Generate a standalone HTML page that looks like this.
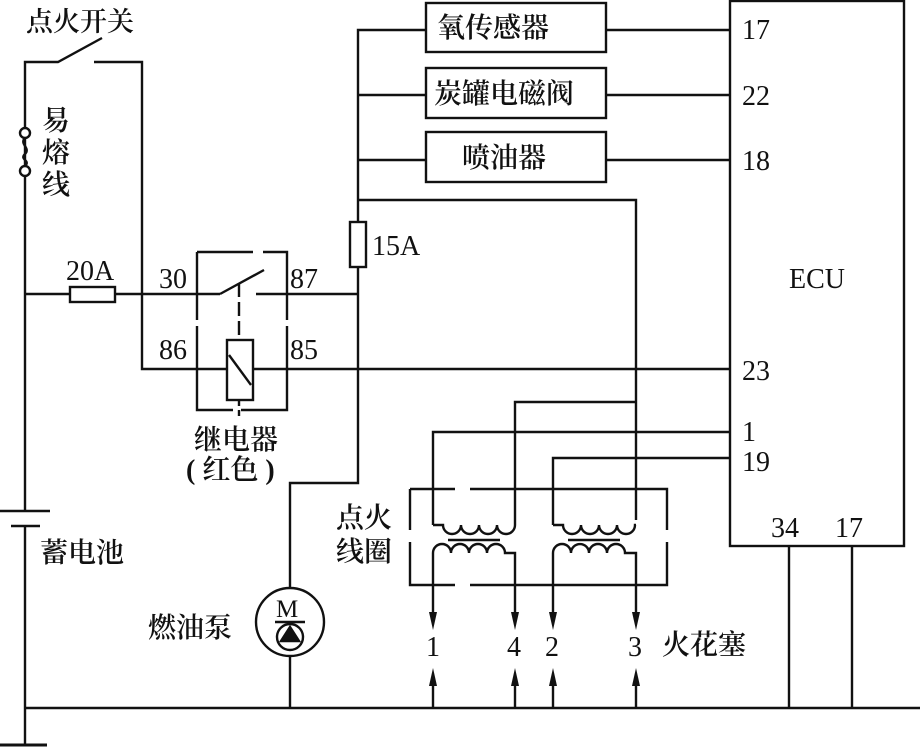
<!DOCTYPE html>
<html><head><meta charset="utf-8"><style>
html,body{margin:0;padding:0;background:#fff;}
svg{display:block;}
text{font-family:"Liberation Serif","Noto Serif CJK SC",serif;fill:#111;}
.c{font-family:"Liberation Serif","Noto Serif CJK SC","Noto Sans CJK SC",serif;font-weight:600;}
</style></head><body>
<svg width="920" height="748" viewBox="0 0 920 748" xmlns="http://www.w3.org/2000/svg">
<g stroke="#111" stroke-width="2.4" fill="none">
<polyline points="25,511 25,62 58,62 102,38"/>
<polyline points="94,62 142,62 142,369 730,369"/>
<circle cx="25" cy="133" r="5" fill="#fff"/>
<circle cx="25" cy="171" r="5" fill="#fff"/>
<path d="M25,138 c-6,6 6,10 0,16 c-6,6 6,6 0,12"/>
<line x1="0" y1="511" x2="50" y2="511"/>
<line x1="11" y1="526" x2="40" y2="526"/>
<line x1="25" y1="526" x2="25" y2="745"/>
<line x1="0" y1="745" x2="47" y2="745" stroke-width="3"/>
<line x1="25" y1="708" x2="920" y2="708"/>
<line x1="25" y1="294" x2="220" y2="294"/>
<rect x="70" y="287" width="45" height="15" fill="#fff"/>
<line x1="256" y1="294" x2="358" y2="294"/>
<path d="M197,252 H253 M263,252 H287 V320 M287,326 V410 H241 M233,410 H197 V326 M197,320 V252" />
<line x1="220" y1="294" x2="264" y2="270"/>
<line x1="239" y1="283" x2="239" y2="340" stroke-dasharray="14,5"/>
<rect x="227" y="340" width="26" height="60" fill="#fff"/>
<line x1="229" y1="355" x2="251" y2="385"/>
<line x1="239" y1="400" x2="239" y2="418" stroke-dasharray="6,4"/>
<polyline points="426,30 358,30 358,483 290,483 290,588"/>
<line x1="358" y1="95" x2="426" y2="95"/>
<line x1="358" y1="160" x2="426" y2="160"/>
<polyline points="358,200 636,200 636,520"/>
<rect x="350" y="222" width="16" height="45" fill="#fff"/>
<rect x="426" y="3" width="180" height="49"/>
<rect x="426" y="68" width="180" height="50"/>
<rect x="426" y="132" width="180" height="50"/>
<line x1="606" y1="30" x2="730" y2="30"/>
<line x1="606" y1="95" x2="730" y2="95"/>
<line x1="606" y1="160" x2="730" y2="160"/>
<rect x="730" y="1" width="174" height="545"/>
<line x1="789" y1="546" x2="789" y2="708"/>
<line x1="852" y1="546" x2="852" y2="708"/>
<circle cx="290" cy="622" r="34"/>
<line x1="275" y1="622" x2="305" y2="622"/>
<circle cx="290" cy="637" r="13"/>
<polygon points="290,627 281,641 299,641" fill="#111"/>
<line x1="290" y1="656" x2="290" y2="708"/>
<polyline points="515,525 515,402 636,402"/>
<polyline points="433,525 433,432 730,432"/>
<polyline points="553,525 553,458 730,458"/>
<path d="M410,489 H455 M470,489 H667 V530 M667,542 V585 H470 M455,585 H410 V542 M410,530 V489"/>
<path d="M433,525 H443 a9,9 0 0 0 18,0 a9,9 0 0 0 18,0 a9,9 0 0 0 18,0 a9,9 0 0 0 18,0 H515"/>
<line x1="448" y1="540" x2="500" y2="540"/>
<path d="M433,620 V553 a9,9 0 0 1 18,0 a9,9 0 0 1 18,0 a9,9 0 0 1 18,0 a9,9 0 0 1 18,0 H515 V620"/>
<path d="M553,525 H563 a9,9 0 0 0 18,0 a9,9 0 0 0 18,0 a9,9 0 0 0 18,0 a9,9 0 0 0 18,0 H636"/>
<line x1="568" y1="540" x2="620" y2="540"/>
<path d="M553,620 V553 a9,9 0 0 1 18,0 a9,9 0 0 1 18,0 a9,9 0 0 1 18,0 a9,9 0 0 1 18,0 H636 V620"/>
<line x1="433" y1="680" x2="433" y2="708"/>
<line x1="515" y1="680" x2="515" y2="708"/>
<line x1="553" y1="680" x2="553" y2="708"/>
<line x1="636" y1="680" x2="636" y2="708"/>
</g>
<g fill="#111">
<polygon points="429,612 437,612 433,630"/>
<polygon points="511,612 519,612 515,630"/>
<polygon points="549,612 557,612 553,630"/>
<polygon points="632,612 640,612 636,630"/>
<polygon points="429,686 437,686 433,668"/>
<polygon points="511,686 519,686 515,668"/>
<polygon points="549,686 557,686 553,668"/>
<polygon points="632,686 640,686 636,668"/>
</g>
<g font-size="28">
<text x="26" y="31" class="c" font-size="27">点火开关</text>
<text x="42" y="130" class="c">易</text>
<text x="42" y="162" class="c">熔</text>
<text x="42" y="194" class="c">线</text>
<text x="66" y="280">20A</text>
<text x="159" y="288">30</text>
<text x="290" y="288">87</text>
<text x="159" y="359">86</text>
<text x="290" y="359">85</text>
<text x="194" y="449" class="c">继电器</text>
<text x="186" y="479" class="c">( 红色 )</text>
<text x="372" y="255">15A</text>
<text x="40" y="562" class="c">蓄电池</text>
<text x="148" y="637" class="c">燃油泵</text>
<text x="276" y="617" font-size="25">M</text>
<text x="437" y="37" class="c">氧传感器</text>
<text x="434" y="103" class="c">炭罐电磁阀</text>
<text x="462" y="167" class="c">喷油器</text>
<text x="742" y="39">17</text>
<text x="742" y="105">22</text>
<text x="742" y="170">18</text>
<text x="789" y="288">ECU</text>
<text x="742" y="380">23</text>
<text x="742" y="441">1</text>
<text x="742" y="471">19</text>
<text x="771" y="537">34</text>
<text x="835" y="537">17</text>
<text x="336" y="527" class="c">点火</text>
<text x="336" y="561" class="c">线圈</text>
<text x="426" y="656">1</text>
<text x="507" y="656">4</text>
<text x="545" y="656">2</text>
<text x="628" y="656">3</text>
<text x="662" y="654" class="c">火花塞</text>
</g>
</svg>
</body></html>
